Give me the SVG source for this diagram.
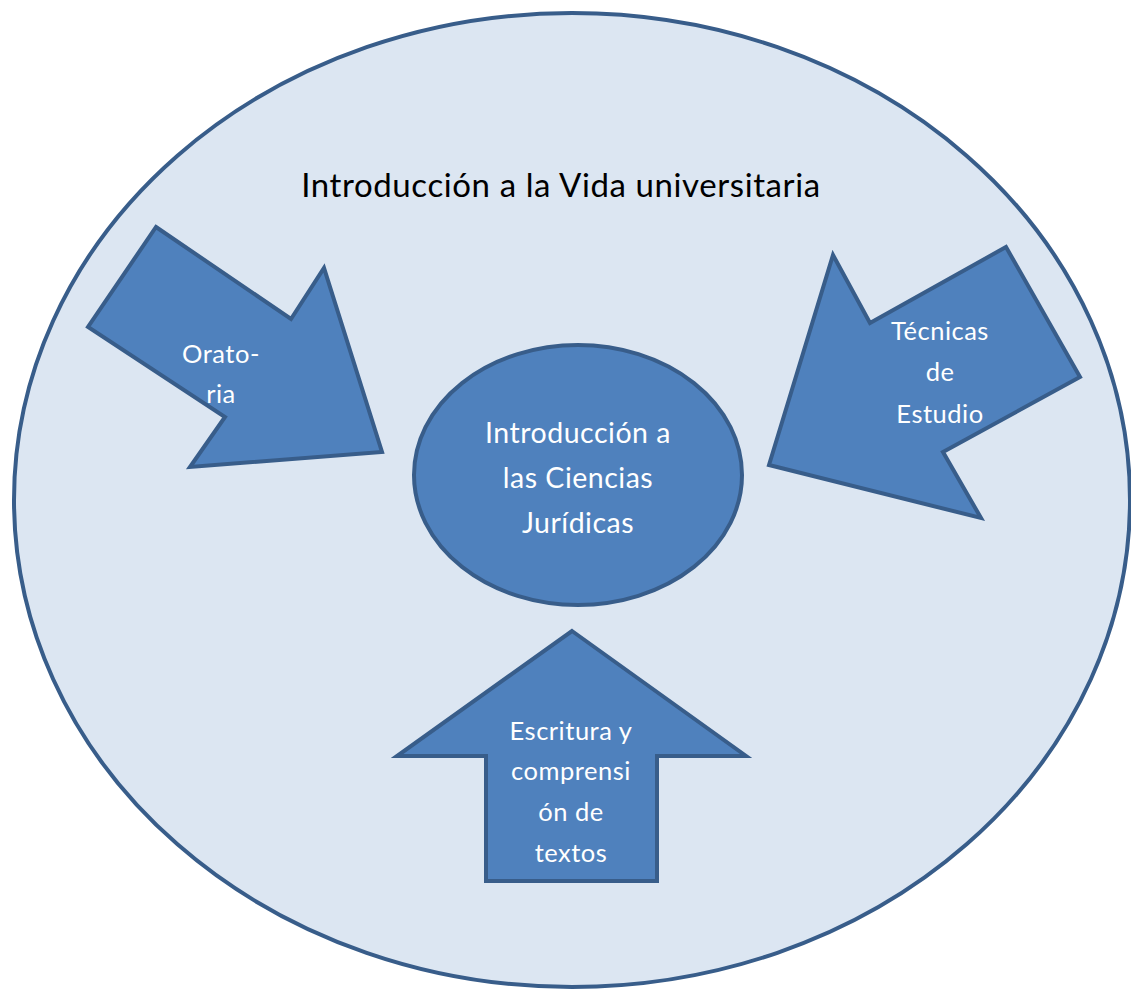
<svg xmlns="http://www.w3.org/2000/svg" width="1131" height="992" viewBox="0 0 1131 992">
<style>
.shape{fill:#4F81BD;stroke:#385D8A;stroke-width:4;stroke-linejoin:miter}
.wt{fill:#FFFFFF;font-family:Lato,"Liberation Sans",sans-serif;text-anchor:middle}
</style>
<rect width="1131" height="992" fill="#FFFFFF"/>
<g id="outer">
<ellipse cx="572" cy="500" rx="558" ry="487" fill="#DCE6F2" stroke="#385D8A" stroke-width="4"/>
<text x="561" y="197" font-family="Lato,'Liberation Sans',sans-serif" font-size="33" letter-spacing="0.6" fill="#000000" text-anchor="middle">Introducción a la Vida universitaria</text>
</g>
<g id="center">
<ellipse cx="578" cy="475" rx="164" ry="130" class="shape"/>
<text class="wt" font-size="28.5" letter-spacing="0.5"><tspan x="578" y="443">Introducción a</tspan><tspan x="578" y="488">las Ciencias</tspan><tspan x="578" y="533">Jurídicas</tspan></text>
</g>
<g id="connectors">
<g id="oratoria">
<polygon class="shape" points="156,227 291,319 324,268 382,452 190,467 225,417 88,327"/>
<text class="wt" font-size="25.5" letter-spacing="0.5"><tspan x="221" y="363">Orato-</tspan><tspan x="221" y="403">ria</tspan></text>
</g>
<g id="tecnicas">
<polygon class="shape" points="833,255 870,323 1006,247 1080,377 943,452 981,518 769,465"/>
<text class="wt" font-size="25.5" letter-spacing="0.5"><tspan x="940" y="340">Técnicas</tspan><tspan x="940" y="381">de</tspan><tspan x="940" y="423">Estudio</tspan></text>
</g>
<g id="escritura">
<polygon class="shape" points="572,631 746,756 657,756 657,881 486,881 486,756 397,756"/>
<text class="wt" font-size="25.5" letter-spacing="0.5"><tspan x="571" y="740">Escritura y</tspan><tspan x="571" y="780">comprensi</tspan><tspan x="571" y="821">ón de</tspan><tspan x="571" y="862">textos</tspan></text>
</g>
</g>
</svg>
